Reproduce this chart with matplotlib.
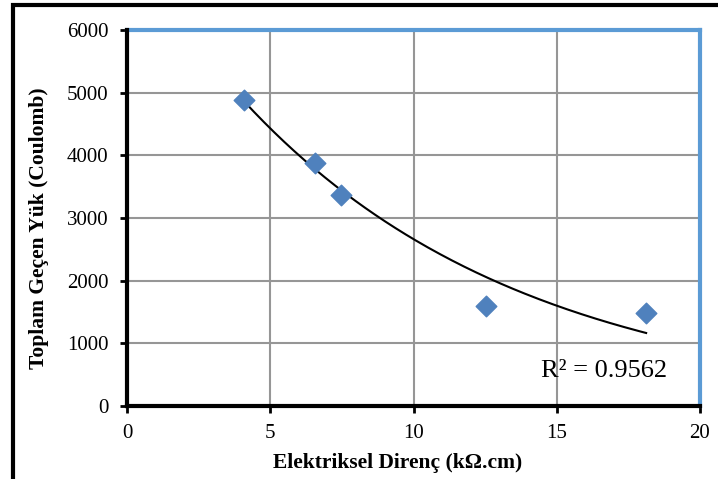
import numpy as np
import matplotlib
matplotlib.use("Agg")
import matplotlib.pyplot as plt
from matplotlib.patches import Rectangle

# Data
resistivity = [4.08, 6.56, 7.47, 12.53, 18.12]
charge = [4880, 3870, 3360, 1600, 1490]
# Exponential trendline y = a * exp(b * x)
trend_a = 7370
trend_b = -0.1018
r2_text = "R² = 0.9562"
x_ticks = [0, 5, 10, 15, 20]
y_ticks = [0, 1000, 2000, 3000, 4000, 5000, 6000]
x_label = "Elektriksel Direnç (kΩ.cm)"
y_label = "Toplam Geçen Yük (Coulomb)"

plt.rcParams['font.family'] = ['Liberation Serif', 'DejaVu Serif']

W, H = 718, 479
fig = plt.figure(figsize=(W / 100, H / 100), dpi=100)
ax = fig.add_axes([127 / W, 1 - 406 / H, (700 - 127) / W, (406 - 30) / H])

xs = np.linspace(min(resistivity), max(resistivity), 200)
ax.plot(xs, trend_a * np.exp(trend_b * xs), color='black', lw=1.5, zorder=3)

ax.scatter(resistivity, charge, marker='D', s=110, color='#4F81BD',
           edgecolors='#4F81BD', zorder=4)

ax.set_xlim(0, 20)
ax.set_ylim(0, 6000)
ax.set_xticks(x_ticks)
ax.set_yticks(y_ticks)
ax.tick_params(labelsize=15, direction='out', length=5, width=2, color='black')
ax.tick_params(axis='y', pad=8.5)
ax.tick_params(axis='x', pad=8)
ax.grid(True, color='#969696', lw=1.5)
ax.set_axisbelow(True)

for s in ['left', 'bottom']:
    ax.spines[s].set_color('black')
    ax.spines[s].set_linewidth(3)
for s in ['top', 'right']:
    ax.spines[s].set_color('#5B9BD5')
    ax.spines[s].set_linewidth(3)
ax.spines['left'].set_zorder(5)
ax.spines['bottom'].set_zorder(5)

ax.set_xlabel(x_label, fontsize=15.5, fontweight='bold')
ax.set_ylabel(y_label, fontsize=15.5, fontweight='bold')
ax.xaxis.set_label_coords((398 - 127) / (700 - 127), -(453 - 406) / (406 - 30))
ax.yaxis.set_label_coords(-(127 - 49) / (700 - 127), (406 - 228) / (406 - 30))

ax.text(16.65, 560, r2_text, fontsize=19, ha='center', va='center')

# Outer chart border
fig.patches.append(Rectangle((13 / W, -0.05), 1.2, 1 - 5 / H + 0.05,
                             transform=fig.transFigure, fill=False,
                             edgecolor='black', lw=3))

fig.savefig("out.png", dpi=100)
